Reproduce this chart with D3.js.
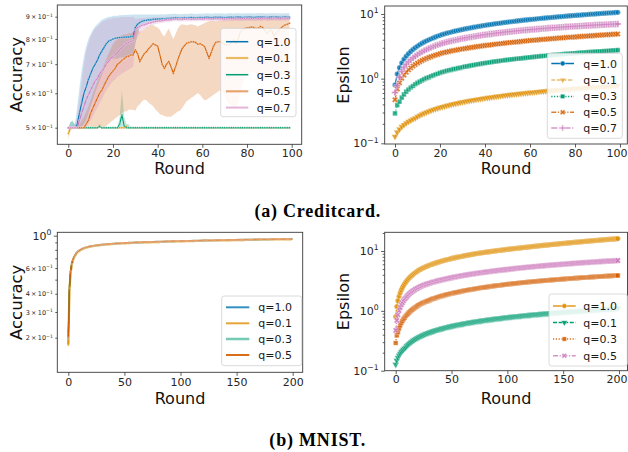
<!DOCTYPE html>
<html><head><meta charset="utf-8">
<script src="https://cdn.jsdelivr.net/npm/d3@7/dist/d3.min.js"></script>
<style>html,body{margin:0;padding:0;background:#fff;}svg{display:block;}</style>
</head><body>
<svg id="chart" width="628" height="452"></svg>
<script>
// ================= DATA =================
const creditRounds = d3.range(0, 100);
const mnistRounds = d3.range(0, 200);
const creditLabels = ["q=1.0", "q=0.1", "q=0.3", "q=0.5", "q=0.7"];
const mnistLabels = ["q=1.0", "q=0.1", "q=0.3", "q=0.5"];
const creditRoundTicks = [0, 20, 40, 60, 80, 100];
const mnistRoundTicks = [0, 50, 100, 150, 200];
const creditAccTicks = [0.5, 0.6, 0.7, 0.8, 0.9];
const creditAccTickMant = ["5", "6", "7", "8", "9"];
const mnistAccMajorTicks = [1];
const mnistAccLabeledMinor = [0.2, 0.3, 0.4, 0.6];
const mnistAccLabeledMinorMant = ["2", "3", "4", "6"];
const mnistAccUnlabeledMinor = [0.5, 0.7, 0.8, 0.9];
const epsTicks = [0.1, 1, 10];
const epsTickExp = ["\u22121", "0", "1"];
const epsMinorTicks = [0.2, 0.3, 0.4, 0.5, 0.6, 0.7, 0.8, 0.9, 2, 3, 4, 5, 6, 7, 8, 9, 20];

// Creditcard accuracy (mean, lower and upper band)
const creditAccQ10 = [
0.50,0.50,0.50,0.50,0.51,0.54,0.57,0.60,0.62,0.645,
0.665,0.685,0.70,0.715,0.735,0.75,0.765,0.78,0.79,0.795,
0.80,0.803,0.805,0.806,0.806,0.807,0.808,0.808,0.81,0.812,
0.85,0.865,0.873,0.878,0.882,0.883,0.886,0.885,0.888,0.888,
0.889,0.889,0.89,0.889,0.891,0.892,0.893,0.894,0.895,0.894,
0.893,0.894,0.895,0.894,0.895,0.896,0.895,0.894,0.895,0.896,
0.895,0.896,0.897,0.896,0.895,0.896,0.897,0.896,0.897,0.896,
0.895,0.896,0.897,0.897,0.896,0.897,0.898,0.897,0.896,0.897,
0.897,0.898,0.897,0.896,0.897,0.898,0.897,0.898,0.897,0.896,
0.897,0.898,0.897,0.898,0.897,0.896,0.897,0.898,0.897,0.897];
const creditAccQ10Lo = [
0.50,0.50,0.50,0.50,0.50,0.50,0.50,0.51,0.52,0.54,
0.56,0.58,0.60,0.62,0.64,0.66,0.68,0.70,0.71,0.72,
0.72,0.72,0.72,0.725,0.725,0.725,0.73,0.73,0.73,0.735,
0.78,0.82,0.85,0.86,0.866,0.868,0.872,0.872,0.875,0.876,
0.877,0.878,0.879,0.878,0.88,0.881,0.882,0.883,0.884,0.883,
0.882,0.883,0.884,0.883,0.884,0.885,0.884,0.883,0.884,0.885,
0.884,0.885,0.886,0.885,0.884,0.885,0.886,0.885,0.886,0.885,
0.884,0.885,0.886,0.886,0.885,0.886,0.887,0.886,0.885,0.886,
0.886,0.887,0.886,0.885,0.886,0.887,0.886,0.887,0.886,0.885,
0.886,0.887,0.886,0.887,0.886,0.885,0.886,0.887,0.886,0.886];
const creditAccQ10Hi = [
0.50,0.515,0.515,0.51,0.56,0.62,0.68,0.73,0.77,0.80,
0.82,0.84,0.855,0.865,0.875,0.885,0.89,0.895,0.90,0.90,
0.905,0.905,0.905,0.907,0.907,0.908,0.908,0.909,0.909,0.91,
0.91,0.91,0.91,0.91,0.91,0.91,0.911,0.91,0.911,0.911,
0.911,0.911,0.912,0.911,0.912,0.913,0.913,0.914,0.914,0.913,
0.912,0.913,0.914,0.913,0.914,0.915,0.914,0.913,0.914,0.915,
0.914,0.915,0.916,0.915,0.914,0.915,0.916,0.915,0.916,0.915,
0.914,0.915,0.916,0.916,0.915,0.916,0.917,0.916,0.915,0.916,
0.916,0.917,0.916,0.915,0.916,0.917,0.916,0.917,0.916,0.915,
0.916,0.917,0.916,0.917,0.916,0.915,0.916,0.917,0.916,0.916];

const creditAccQ01 = [
0.485,0.5,0.5,0.5,0.5,0.5,0.5,0.5,0.5,0.5,
0.5,0.5,0.5,0.5,0.503,0.5,0.5,0.5,0.5,0.5,
0.5,0.5,0.5,0.5,0.5,0.5,0.503,0.5,0.5,0.5,
0.5,0.5,0.5,0.5,0.5,0.5,0.5,0.5,0.5,0.5,
0.5,0.5,0.5,0.5,0.5,0.5,0.5,0.5,0.5,0.5,
0.5,0.5,0.5,0.5,0.5,0.5,0.5,0.5,0.5,0.5,
0.5,0.5,0.5,0.5,0.5,0.5,0.5,0.5,0.5,0.5,
0.5,0.5,0.5,0.5,0.5,0.5,0.5,0.5,0.5,0.5,
0.5,0.5,0.5,0.5,0.5,0.5,0.5,0.5,0.5,0.5,
0.5,0.5,0.5,0.5,0.5,0.5,0.5,0.5,0.5,0.5];
const creditAccQ01Lo = [
0.47,0.49,0.5,0.5,0.5,0.5,0.5,0.5,0.5,0.5,
0.5,0.5,0.5,0.5,0.5,0.5,0.5,0.5,0.5,0.5,
0.5,0.5,0.5,0.5,0.5,0.5,0.5,0.5,0.5,0.5,
0.5,0.5,0.5,0.5,0.5,0.5,0.5,0.5,0.5,0.5,
0.5,0.5,0.5,0.5,0.5,0.5,0.5,0.5,0.5,0.5,
0.5,0.5,0.5,0.5,0.5,0.5,0.5,0.5,0.5,0.5,
0.5,0.5,0.5,0.5,0.5,0.5,0.5,0.5,0.5,0.5,
0.5,0.5,0.5,0.5,0.5,0.5,0.5,0.5,0.5,0.5,
0.5,0.5,0.5,0.5,0.5,0.5,0.5,0.5,0.5,0.5,
0.5,0.5,0.5,0.5,0.5,0.5,0.5,0.5,0.5,0.5];
const creditAccQ01Hi = [
0.5,0.505,0.5,0.5,0.5,0.5,0.5,0.5,0.5,0.5,
0.5,0.5,0.5,0.5,0.51,0.5,0.5,0.5,0.5,0.5,
0.5,0.5,0.5,0.5,0.5,0.5,0.51,0.5,0.5,0.5,
0.5,0.5,0.5,0.5,0.5,0.5,0.5,0.5,0.5,0.5,
0.5,0.5,0.5,0.5,0.5,0.5,0.5,0.5,0.5,0.5,
0.5,0.5,0.5,0.5,0.5,0.5,0.5,0.5,0.5,0.5,
0.5,0.5,0.5,0.5,0.5,0.5,0.5,0.5,0.5,0.5,
0.5,0.5,0.5,0.5,0.5,0.5,0.5,0.5,0.5,0.5,
0.5,0.5,0.5,0.5,0.5,0.5,0.5,0.5,0.5,0.5,
0.5,0.5,0.5,0.5,0.5,0.5,0.5,0.5,0.5,0.5];

const creditAccQ03 = [
0.5,0.5,0.5,0.5,0.5,0.5,0.5,0.5,0.5,0.5,
0.5,0.5,0.5,0.5,0.503,0.5,0.5,0.5,0.5,0.5,
0.5,0.5,0.5,0.51,0.535,0.505,0.5,0.5,0.5,0.5,
0.5,0.5,0.5,0.5,0.5,0.5,0.5,0.5,0.5,0.5,
0.5,0.5,0.5,0.5,0.5,0.5,0.5,0.5,0.5,0.5,
0.5,0.5,0.5,0.5,0.5,0.5,0.5,0.5,0.5,0.5,
0.5,0.5,0.5,0.5,0.5,0.5,0.5,0.5,0.5,0.5,
0.5,0.5,0.5,0.5,0.5,0.5,0.5,0.5,0.5,0.5,
0.5,0.5,0.5,0.5,0.5,0.5,0.5,0.5,0.5,0.5,
0.5,0.5,0.5,0.5,0.5,0.5,0.5,0.5,0.5,0.5];
const creditAccQ03Lo = [
0.5,0.5,0.5,0.5,0.5,0.5,0.5,0.5,0.5,0.5,
0.5,0.5,0.5,0.5,0.5,0.5,0.5,0.5,0.5,0.5,
0.5,0.5,0.5,0.5,0.5,0.5,0.5,0.5,0.5,0.5,
0.5,0.5,0.5,0.5,0.5,0.5,0.5,0.5,0.5,0.5,
0.5,0.5,0.5,0.5,0.5,0.5,0.5,0.5,0.5,0.5,
0.5,0.5,0.5,0.5,0.5,0.5,0.5,0.5,0.5,0.5,
0.5,0.5,0.5,0.5,0.5,0.5,0.5,0.5,0.5,0.5,
0.5,0.5,0.5,0.5,0.5,0.5,0.5,0.5,0.5,0.5,
0.5,0.5,0.5,0.5,0.5,0.5,0.5,0.5,0.5,0.5,
0.5,0.5,0.5,0.5,0.5,0.5,0.5,0.5,0.5,0.5];
const creditAccQ03Hi = [
0.5,0.515,0.52,0.505,0.5,0.5,0.5,0.5,0.5,0.5,
0.5,0.5,0.5,0.5,0.51,0.5,0.5,0.5,0.5,0.5,
0.5,0.5,0.5,0.53,0.61,0.53,0.51,0.51,0.5,0.5,
0.5,0.5,0.5,0.5,0.5,0.5,0.5,0.5,0.5,0.5,
0.5,0.5,0.5,0.5,0.5,0.5,0.5,0.5,0.5,0.5,
0.5,0.5,0.5,0.5,0.5,0.5,0.5,0.5,0.5,0.5,
0.5,0.5,0.5,0.5,0.5,0.5,0.5,0.5,0.5,0.5,
0.5,0.5,0.5,0.5,0.5,0.5,0.5,0.5,0.5,0.5,
0.5,0.5,0.5,0.5,0.5,0.5,0.5,0.5,0.5,0.5,
0.5,0.5,0.5,0.5,0.5,0.5,0.5,0.5,0.5,0.5];

const creditAccQ05 = [
0.50,0.50,0.50,0.50,0.50,0.50,0.50,0.50,0.51,0.52,
0.54,0.555,0.57,0.585,0.60,0.61,0.625,0.64,0.655,0.665,
0.675,0.685,0.70,0.705,0.715,0.72,0.728,0.73,0.735,0.735,
0.755,0.74,0.71,0.725,0.74,0.748,0.76,0.77,0.78,0.775,
0.77,0.735,0.70,0.685,0.70,0.71,0.69,0.667,0.69,0.716,
0.74,0.761,0.772,0.782,0.785,0.788,0.788,0.785,0.778,0.78,
0.775,0.768,0.745,0.722,0.745,0.77,0.785,0.788,0.788,0.785,
0.778,0.775,0.775,0.785,0.795,0.78,0.80,0.83,0.84,0.845,
0.849,0.85,0.852,0.85,0.846,0.848,0.854,0.85,0.835,0.824,
0.835,0.839,0.81,0.825,0.835,0.845,0.855,0.861,0.865,0.869];
const creditAccQ05Lo = [
0.50,0.50,0.50,0.50,0.50,0.50,0.50,0.50,0.50,0.50,
0.50,0.50,0.50,0.50,0.50,0.50,0.50,0.505,0.51,0.515,
0.52,0.525,0.53,0.535,0.54,0.545,0.545,0.55,0.55,0.55,
0.547,0.56,0.565,0.575,0.58,0.578,0.57,0.565,0.56,0.55,
0.545,0.537,0.535,0.532,0.53,0.53,0.53,0.535,0.54,0.545,
0.547,0.555,0.565,0.575,0.58,0.585,0.59,0.595,0.60,0.595,
0.585,0.578,0.58,0.585,0.59,0.595,0.60,0.605,0.61,0.605,
0.59,0.575,0.565,0.56,0.555,0.555,0.57,0.60,0.63,0.65,
0.66,0.665,0.67,0.672,0.668,0.66,0.652,0.645,0.645,0.648,
0.65,0.655,0.662,0.668,0.672,0.67,0.665,0.66,0.66,0.662];
const creditAccQ05Hi = [
0.50,0.50,0.50,0.50,0.505,0.51,0.52,0.53,0.545,0.56,
0.58,0.60,0.62,0.64,0.66,0.68,0.70,0.72,0.74,0.76,
0.78,0.79,0.80,0.81,0.815,0.82,0.82,0.825,0.825,0.83,
0.84,0.845,0.83,0.835,0.84,0.85,0.855,0.86,0.86,0.855,
0.85,0.84,0.82,0.81,0.83,0.845,0.82,0.80,0.82,0.845,
0.86,0.865,0.862,0.86,0.862,0.865,0.862,0.86,0.855,0.86,
0.865,0.87,0.875,0.878,0.88,0.88,0.878,0.88,0.882,0.883,
0.885,0.885,0.884,0.886,0.888,0.888,0.89,0.892,0.894,0.895,
0.896,0.897,0.898,0.898,0.898,0.899,0.90,0.90,0.90,0.90,
0.90,0.90,0.90,0.90,0.901,0.901,0.902,0.902,0.902,0.902];

const creditAccQ07 = [
0.50,0.50,0.50,0.50,0.50,0.52,0.54,0.56,0.58,0.595,
0.61,0.625,0.64,0.65,0.665,0.675,0.685,0.70,0.71,0.72,
0.73,0.735,0.745,0.755,0.765,0.775,0.78,0.785,0.79,0.795,
0.84,0.85,0.855,0.86,0.862,0.866,0.87,0.872,0.875,0.877,
0.88,0.88,0.882,0.884,0.886,0.887,0.886,0.888,0.889,0.888,
0.889,0.888,0.889,0.89,0.889,0.888,0.889,0.89,0.889,0.89,
0.889,0.89,0.891,0.89,0.889,0.89,0.891,0.89,0.891,0.89,
0.889,0.89,0.891,0.89,0.891,0.892,0.891,0.89,0.891,0.892,
0.891,0.892,0.891,0.89,0.891,0.892,0.891,0.892,0.893,0.892,
0.891,0.892,0.893,0.892,0.891,0.892,0.893,0.892,0.893,0.892];
const creditAccQ07Lo = [
0.50,0.50,0.50,0.50,0.50,0.50,0.50,0.50,0.50,0.51,
0.52,0.53,0.545,0.555,0.57,0.58,0.595,0.61,0.62,0.63,
0.64,0.645,0.655,0.66,0.665,0.67,0.675,0.68,0.685,0.69,
0.78,0.81,0.825,0.835,0.84,0.848,0.855,0.858,0.862,0.865,
0.868,0.869,0.871,0.873,0.875,0.876,0.876,0.878,0.879,0.878,
0.878,0.877,0.878,0.879,0.878,0.877,0.878,0.879,0.878,0.879,
0.878,0.879,0.880,0.879,0.878,0.879,0.880,0.879,0.880,0.879,
0.878,0.879,0.880,0.879,0.880,0.881,0.880,0.879,0.880,0.881,
0.880,0.881,0.880,0.879,0.880,0.881,0.880,0.881,0.882,0.881,
0.880,0.881,0.882,0.881,0.880,0.881,0.882,0.881,0.882,0.881];
const creditAccQ07Hi = [
0.50,0.50,0.505,0.51,0.53,0.58,0.64,0.70,0.75,0.78,
0.81,0.83,0.845,0.855,0.865,0.875,0.88,0.885,0.89,0.89,
0.895,0.895,0.895,0.897,0.897,0.898,0.898,0.899,0.899,0.90,
0.89,0.892,0.893,0.894,0.894,0.895,0.896,0.896,0.897,0.897,
0.898,0.898,0.899,0.899,0.90,0.90,0.90,0.901,0.901,0.901,
0.901,0.900,0.901,0.902,0.901,0.900,0.901,0.902,0.901,0.902,
0.901,0.902,0.903,0.902,0.901,0.902,0.903,0.902,0.903,0.902,
0.901,0.902,0.903,0.902,0.903,0.904,0.903,0.902,0.903,0.904,
0.903,0.904,0.903,0.902,0.903,0.904,0.903,0.904,0.905,0.904,
0.903,0.904,0.905,0.904,0.903,0.904,0.905,0.904,0.905,0.904];

// Creditcard epsilon
const creditEpsQ10 = [
0.80,1.18,1.48,1.75,2.00,2.23,2.44,2.64,2.83,3.01,
3.19,3.36,3.53,3.69,3.84,3.99,4.13,4.27,4.41,4.55,
4.68,4.82,4.93,5.05,5.16,5.26,5.37,5.47,5.57,5.67,
5.77,5.87,5.97,6.06,6.15,6.24,6.33,6.42,6.51,6.60,
6.68,6.77,6.85,6.93,7.02,7.10,7.18,7.25,7.33,7.41,
7.49,7.56,7.64,7.71,7.79,7.86,7.93,8.00,8.07,8.15,
8.22,8.28,8.35,8.42,8.49,8.56,8.62,8.69,8.76,8.82,
8.89,8.95,9.01,9.08,9.14,9.20,9.27,9.33,9.39,9.45,
9.51,9.57,9.63,9.69,9.75,9.81,9.87,9.93,9.98,10.04,
10.10,10.16,10.21,10.27,10.32,10.38,10.44,10.49,10.55,10.60];
const creditEpsQ01 = [
0.127,0.148,0.165,0.180,0.193,0.205,0.216,0.226,0.236,0.245,
0.258,0.270,0.281,0.292,0.302,0.312,0.322,0.331,0.340,0.349,
0.357,0.366,0.374,0.382,0.390,0.398,0.405,0.413,0.420,0.427,
0.434,0.441,0.448,0.455,0.461,0.468,0.474,0.481,0.487,0.493,
0.499,0.506,0.511,0.517,0.523,0.529,0.535,0.540,0.546,0.552,
0.557,0.562,0.568,0.573,0.578,0.584,0.589,0.594,0.599,0.604,
0.609,0.614,0.619,0.624,0.629,0.634,0.638,0.643,0.648,0.653,
0.657,0.662,0.666,0.671,0.675,0.680,0.684,0.689,0.693,0.698,
0.702,0.706,0.711,0.715,0.719,0.723,0.728,0.732,0.736,0.740,
0.744,0.748,0.752,0.756,0.760,0.764,0.768,0.772,0.776,0.780];
const creditEpsQ03 = [
0.29,0.39,0.44,0.51,0.57,0.63,0.68,0.73,0.77,0.82,
0.86,0.90,0.94,0.98,1.02,1.05,1.09,1.12,1.16,1.19,
1.23,1.26,1.29,1.32,1.35,1.37,1.40,1.42,1.45,1.47,
1.50,1.53,1.55,1.58,1.60,1.62,1.65,1.67,1.69,1.72,
1.74,1.76,1.78,1.80,1.83,1.85,1.87,1.89,1.91,1.93,
1.95,1.97,1.99,2.00,2.03,2.04,2.06,2.08,2.10,2.12,
2.14,2.15,2.17,2.19,2.21,2.23,2.24,2.26,2.28,2.29,
2.31,2.33,2.34,2.36,2.38,2.39,2.41,2.43,2.44,2.46,
2.47,2.49,2.50,2.52,2.54,2.55,2.57,2.58,2.59,2.61,
2.63,2.64,2.65,2.67,2.68,2.70,2.71,2.73,2.74,2.76];
const creditEpsQ05 = [
0.47,0.69,0.86,1.01,1.14,1.26,1.37,1.47,1.57,1.66,
1.74,1.83,1.91,1.98,2.05,2.12,2.18,2.25,2.31,2.37,
2.42,2.49,2.53,2.59,2.63,2.67,2.72,2.76,2.80,2.84,
2.88,2.92,2.96,3.00,3.04,3.07,3.11,3.15,3.18,3.22,
3.25,3.28,3.32,3.35,3.39,3.42,3.45,3.48,3.51,3.55,
3.58,3.61,3.64,3.67,3.70,3.73,3.76,3.79,3.82,3.85,
3.88,3.91,3.93,3.97,3.99,4.02,4.05,4.08,4.11,4.13,
4.16,4.19,4.21,4.24,4.27,4.29,4.32,4.35,4.38,4.39,
4.42,4.45,4.48,4.50,4.52,4.55,4.58,4.61,4.62,4.65,
4.68,4.70,4.73,4.76,4.78,4.80,4.82,4.85,4.87,4.90];
const creditEpsQ07 = [
0.61,0.78,1.05,1.29,1.49,1.66,1.82,1.96,2.10,2.23,
2.36,2.49,2.61,2.72,2.83,2.94,3.04,3.14,3.24,3.34,
3.43,3.52,3.60,3.68,3.76,3.83,3.90,3.97,4.04,4.11,
4.17,4.24,4.30,4.36,4.42,4.48,4.54,4.60,4.66,4.72,
4.77,4.83,4.88,4.93,4.98,5.04,5.09,5.13,5.18,5.23,
5.28,5.32,5.37,5.41,5.46,5.51,5.55,5.59,5.63,5.68,
5.72,5.75,5.79,5.84,5.87,5.92,5.96,6.00,6.04,6.07,
6.11,6.14,6.17,6.21,6.24,6.28,6.32,6.35,6.39,6.42,
6.45,6.48,6.51,6.54,6.57,6.61,6.64,6.67,6.70,6.73,
6.76,6.79,6.81,6.84,6.86,6.90,6.93,6.95,6.98,7.01];

// MNIST accuracy
const mnistAccQ10 = [
0.22,0.45,0.575,0.643,0.688,0.717,0.740,0.758,0.773,0.786,
0.796,0.805,0.812,0.818,0.824,0.829,0.834,0.838,0.841,0.845,
0.848,0.851,0.853,0.856,0.858,0.860,0.862,0.864,0.865,0.867,
0.869,0.871,0.872,0.874,0.875,0.876,0.878,0.879,0.880,0.881,
0.882,0.883,0.885,0.886,0.886,0.887,0.888,0.889,0.890,0.891,
0.892,0.893,0.894,0.894,0.895,0.896,0.896,0.897,0.898,0.898,
0.899,0.900,0.900,0.901,0.902,0.902,0.903,0.903,0.904,0.905,
0.905,0.906,0.906,0.907,0.907,0.908,0.908,0.909,0.909,0.910,
0.910,0.911,0.911,0.912,0.912,0.913,0.913,0.914,0.914,0.915,
0.915,0.916,0.916,0.917,0.917,0.917,0.918,0.918,0.919,0.919,
0.920,0.920,0.920,0.921,0.921,0.922,0.922,0.923,0.923,0.923,
0.924,0.924,0.925,0.925,0.925,0.926,0.926,0.926,0.927,0.927,
0.928,0.928,0.928,0.929,0.929,0.929,0.930,0.930,0.930,0.931,
0.931,0.931,0.932,0.932,0.932,0.933,0.933,0.933,0.934,0.934,
0.934,0.935,0.935,0.935,0.936,0.936,0.936,0.937,0.937,0.937,
0.938,0.938,0.938,0.939,0.939,0.939,0.939,0.940,0.940,0.940,
0.941,0.941,0.941,0.942,0.942,0.942,0.942,0.943,0.943,0.943,
0.944,0.944,0.944,0.944,0.945,0.945,0.945,0.946,0.946,0.946,
0.946,0.947,0.947,0.947,0.947,0.948,0.948,0.948,0.948,0.949,
0.949,0.949,0.949,0.950,0.950,0.950,0.950,0.951,0.951,0.951];
const mnistAccQ01 = [
0.178,0.420,0.550,0.625,0.672,0.704,0.728,0.748,0.764,0.777,
0.788,0.797,0.805,0.812,0.818,0.823,0.828,0.832,0.836,0.839,
0.842,0.845,0.848,0.850,0.852,0.854,0.856,0.858,0.860,0.862,
0.864,0.865,0.867,0.868,0.870,0.871,0.872,0.874,0.875,0.876,
0.877,0.878,0.879,0.880,0.881,0.882,0.883,0.884,0.885,0.886,
0.887,0.887,0.888,0.889,0.890,0.890,0.891,0.892,0.892,0.893,
0.894,0.894,0.895,0.896,0.896,0.897,0.897,0.898,0.899,0.899,
0.900,0.900,0.901,0.901,0.902,0.902,0.903,0.903,0.904,0.904,
0.905,0.905,0.906,0.906,0.907,0.907,0.908,0.908,0.909,0.909,
0.910,0.910,0.911,0.911,0.912,0.912,0.913,0.913,0.913,0.914,
0.914,0.915,0.915,0.916,0.916,0.916,0.917,0.917,0.918,0.918,
0.918,0.919,0.919,0.920,0.920,0.920,0.921,0.921,0.921,0.922,
0.922,0.923,0.923,0.923,0.924,0.924,0.924,0.925,0.925,0.925,
0.926,0.926,0.926,0.927,0.927,0.927,0.928,0.928,0.928,0.929,
0.929,0.929,0.930,0.930,0.930,0.931,0.931,0.931,0.932,0.932,
0.932,0.932,0.933,0.933,0.933,0.934,0.934,0.934,0.935,0.935,
0.935,0.935,0.936,0.936,0.936,0.937,0.937,0.937,0.937,0.938,
0.938,0.938,0.939,0.939,0.939,0.939,0.940,0.940,0.940,0.940,
0.941,0.941,0.941,0.941,0.942,0.942,0.942,0.942,0.943,0.943,
0.943,0.943,0.944,0.944,0.944,0.944,0.945,0.945,0.945,0.945];
const mnistAccQ01BandLo = [0.13, 0.39, 0.53, 0.61, 0.66, 0.695];
const mnistAccQ01BandHi = [0.20, 0.46, 0.575, 0.64, 0.685, 0.714];
const mnistAccQ03 = [
0.198,0.436,0.568,0.638,0.683,0.713,0.736,0.755,0.770,0.783,
0.793,0.802,0.810,0.816,0.822,0.827,0.832,0.836,0.839,0.843,
0.846,0.849,0.851,0.854,0.856,0.858,0.860,0.862,0.864,0.866,
0.867,0.869,0.871,0.872,0.874,0.875,0.876,0.878,0.879,0.880,
0.881,0.882,0.883,0.884,0.885,0.886,0.887,0.888,0.889,0.890,
0.891,0.891,0.892,0.893,0.894,0.894,0.895,0.896,0.896,0.897,
0.898,0.898,0.899,0.900,0.900,0.901,0.901,0.902,0.903,0.903,
0.904,0.904,0.905,0.905,0.906,0.906,0.907,0.907,0.908,0.908,
0.909,0.909,0.910,0.910,0.911,0.911,0.912,0.912,0.913,0.913,
0.914,0.914,0.915,0.915,0.916,0.916,0.917,0.917,0.917,0.918,
0.918,0.919,0.919,0.920,0.920,0.920,0.921,0.921,0.922,0.922,
0.922,0.923,0.923,0.924,0.924,0.924,0.925,0.925,0.925,0.926,
0.926,0.927,0.927,0.927,0.928,0.928,0.928,0.929,0.929,0.929,
0.930,0.930,0.930,0.931,0.931,0.931,0.932,0.932,0.932,0.933,
0.933,0.933,0.934,0.934,0.934,0.935,0.935,0.935,0.936,0.936,
0.936,0.936,0.937,0.937,0.937,0.938,0.938,0.938,0.939,0.939,
0.939,0.939,0.940,0.940,0.940,0.941,0.941,0.941,0.941,0.942,
0.942,0.942,0.943,0.943,0.943,0.943,0.944,0.944,0.944,0.944,
0.945,0.945,0.945,0.945,0.946,0.946,0.946,0.946,0.947,0.947,
0.947,0.947,0.948,0.948,0.948,0.948,0.949,0.949,0.949,0.949];
const mnistAccQ05 = [
0.20,0.44,0.57,0.64,0.685,0.715,0.738,0.757,0.772,0.785,
0.795,0.804,0.811,0.818,0.824,0.829,0.833,0.837,0.841,0.844,
0.847,0.850,0.853,0.855,0.857,0.859,0.861,0.863,0.865,0.867,
0.869,0.870,0.872,0.873,0.875,0.876,0.877,0.879,0.880,0.881,
0.882,0.883,0.884,0.885,0.886,0.887,0.888,0.889,0.890,0.891,
0.892,0.892,0.893,0.894,0.895,0.895,0.896,0.897,0.897,0.898,
0.899,0.899,0.900,0.901,0.901,0.902,0.902,0.903,0.904,0.904,
0.905,0.905,0.906,0.906,0.907,0.907,0.908,0.908,0.909,0.909,
0.910,0.910,0.911,0.911,0.912,0.912,0.913,0.913,0.914,0.914,
0.915,0.915,0.916,0.916,0.917,0.917,0.918,0.918,0.918,0.919,
0.919,0.920,0.920,0.921,0.921,0.921,0.922,0.922,0.923,0.923,
0.923,0.924,0.924,0.925,0.925,0.925,0.926,0.926,0.926,0.927,
0.927,0.928,0.928,0.928,0.929,0.929,0.929,0.930,0.930,0.930,
0.931,0.931,0.931,0.932,0.932,0.932,0.933,0.933,0.933,0.934,
0.934,0.934,0.935,0.935,0.935,0.936,0.936,0.936,0.937,0.937,
0.937,0.937,0.938,0.938,0.938,0.939,0.939,0.939,0.940,0.940,
0.940,0.940,0.941,0.941,0.941,0.942,0.942,0.942,0.942,0.943,
0.943,0.943,0.944,0.944,0.944,0.944,0.945,0.945,0.945,0.945,
0.946,0.946,0.946,0.946,0.947,0.947,0.947,0.947,0.948,0.948,
0.948,0.948,0.949,0.949,0.949,0.949,0.950,0.950,0.950,0.950];

// MNIST epsilon: rounds 0-99 follow the same accounting as Creditcard, rounds 100-199 below
const mnistEpsQ10Tail = [
10.66,10.71,10.77,10.82,10.88,10.93,10.99,11.04,11.10,11.15,
11.21,11.26,11.32,11.37,11.43,11.48,11.54,11.59,11.65,11.70,
11.76,11.81,11.87,11.92,11.98,12.03,12.09,12.14,12.20,12.25,
12.31,12.36,12.42,12.47,12.53,12.58,12.64,12.69,12.75,12.80,
12.86,12.91,12.97,13.02,13.08,13.13,13.19,13.24,13.30,13.35,
13.41,13.46,13.52,13.57,13.63,13.68,13.74,13.79,13.85,13.90,
13.96,14.01,14.07,14.12,14.18,14.23,14.29,14.34,14.40,14.45,
14.51,14.56,14.62,14.67,14.73,14.78,14.84,14.89,14.95,15.00,
15.06,15.11,15.17,15.22,15.28,15.33,15.39,15.44,15.50,15.55,
15.61,15.66,15.72,15.77,15.83,15.88,15.94,15.99,16.05,16.10];
const mnistEpsQ01Tail = [
0.784,0.788,0.792,0.795,0.799,0.803,0.807,0.811,0.814,0.818,
0.822,0.825,0.829,0.833,0.836,0.840,0.844,0.847,0.851,0.854,
0.858,0.862,0.865,0.869,0.872,0.876,0.879,0.882,0.886,0.889,
0.893,0.896,0.900,0.903,0.906,0.910,0.913,0.916,0.920,0.923,
0.926,0.929,0.933,0.936,0.939,0.942,0.946,0.949,0.952,0.955,
0.958,0.962,0.965,0.968,0.971,0.974,0.977,0.980,0.984,0.987,
0.990,0.993,0.996,0.999,1.002,1.005,1.008,1.011,1.014,1.017,
1.020,1.023,1.026,1.029,1.032,1.035,1.038,1.041,1.044,1.046,
1.049,1.052,1.055,1.058,1.061,1.064,1.067,1.069,1.072,1.075,
1.078,1.081,1.084,1.086,1.089,1.092,1.095,1.098,1.100,1.103];
const mnistEpsQ03Tail = [
2.77,2.79,2.80,2.81,2.83,2.84,2.85,2.87,2.88,2.89,
2.91,2.92,2.93,2.95,2.96,2.97,2.99,3.00,3.01,3.02,
3.04,3.05,3.06,3.07,3.09,3.10,3.11,3.12,3.13,3.15,
3.16,3.17,3.18,3.20,3.21,3.22,3.23,3.24,3.25,3.27,
3.28,3.29,3.30,3.31,3.32,3.33,3.35,3.36,3.37,3.38,
3.39,3.40,3.41,3.43,3.44,3.45,3.46,3.47,3.48,3.49,
3.50,3.51,3.52,3.53,3.55,3.56,3.57,3.58,3.59,3.60,
3.61,3.62,3.63,3.64,3.65,3.66,3.67,3.68,3.69,3.70,
3.71,3.72,3.73,3.74,3.75,3.76,3.77,3.78,3.79,3.80,
3.81,3.82,3.83,3.84,3.85,3.86,3.87,3.88,3.89,3.90];
const mnistEpsQ05Tail = [
4.92,4.95,4.97,5.00,5.02,5.05,5.07,5.09,5.12,5.14,
5.16,5.19,5.21,5.23,5.25,5.28,5.30,5.32,5.35,5.37,
5.39,5.41,5.43,5.46,5.48,5.50,5.52,5.54,5.57,5.59,
5.61,5.63,5.65,5.67,5.69,5.71,5.74,5.76,5.78,5.80,
5.82,5.84,5.86,5.88,5.90,5.92,5.94,5.96,5.98,6.00,
6.02,6.04,6.06,6.08,6.10,6.12,6.14,6.16,6.18,6.20,
6.22,6.24,6.26,6.27,6.29,6.31,6.33,6.35,6.37,6.39,
6.41,6.43,6.44,6.46,6.48,6.50,6.52,6.54,6.56,6.57,
6.59,6.61,6.63,6.65,6.66,6.68,6.70,6.72,6.74,6.75,
6.77,6.79,6.81,6.82,6.84,6.86,6.88,6.89,6.91,6.93];
const mnistEpsQ10 = creditEpsQ10.concat(mnistEpsQ10Tail);
const mnistEpsQ01 = creditEpsQ01.concat(mnistEpsQ01Tail);
const mnistEpsQ03 = creditEpsQ03.concat(mnistEpsQ03Tail);
const mnistEpsQ05 = creditEpsQ05.concat(mnistEpsQ05Tail);

// ================= STYLE =================
const C_BLUE = "#0173b2", C_YEL = "#de8f05", C_GRN = "#029e73", C_ORG = "#d55e00", C_PNK = "#cc78bc";
const FONT = "'DejaVu Sans', sans-serif";
const RIGHT_EDGE = 627.5;

const svg = d3.select("#chart");
const defs = svg.append("defs");

function makePanel(id, frame, xDom, xRng, yDom, yRng) {
  const x = d3.scaleLinear().domain(xDom).range(xRng);
  const y = d3.scaleLog().domain(yDom).range(yRng);
  defs.append("clipPath").attr("id", "clip-" + id).append("rect")
    .attr("x", frame[0]).attr("y", frame[1])
    .attr("width", frame[2] - frame[0]).attr("height", frame[3] - frame[1]);
  const g = svg.append("g");
  const plot = g.append("g").attr("clip-path", `url(#clip-${id})`);
  return { x, y, g, plot, frame };
}

function styleAxis(ax, fs) {
  ax.attr("font-family", FONT).attr("font-size", fs);
  ax.select(".domain").remove();
  ax.selectAll(".tick line").attr("stroke", "#333").attr("stroke-width", 0.8);
  ax.selectAll(".tick text").attr("fill", "#262626");
}

function xAxis(p, ticks, pad) {
  const ax = p.g.append("g").attr("transform", `translate(0,${p.frame[3]})`)
    .call(d3.axisBottom(p.x).tickValues(ticks).tickSize(3.5).tickPadding(pad).tickFormat(d3.format("d")));
  styleAxis(ax, 11);
  // keep labels inside the picture (the reference shows them flush with the right edge)
  ax.selectAll(".tick text").each(function () {
    const r = this.getBoundingClientRect();
    if (r.right > RIGHT_EDGE) d3.select(this).attr("dx", -(r.right - RIGHT_EDGE));
  });
}

function yAxisSup(p, ticks, mant, exps, size, fs) {
  const ax = p.g.append("g").attr("transform", `translate(${p.frame[0]},0)`)
    .call(d3.axisLeft(p.y).tickValues(ticks).tickSize(size).tickPadding(2.5).tickFormat(() => ""));
  styleAxis(ax, fs);
  ax.selectAll(".tick text").each(function (d, i) {
    const t = d3.select(this);
    t.text(null);
    t.append("tspan").text(mant[i]);
    t.append("tspan").attr("dy", -0.42 * fs).attr("font-size", fs * 0.7).text(exps[i]);
  });
}

function yAxisMinor(p, ticks) {
  const ax = p.g.append("g").attr("transform", `translate(${p.frame[0]},0)`)
    .call(d3.axisLeft(p.y).tickValues(ticks.filter(v => p.y(v) >= p.frame[1] && p.y(v) <= p.frame[3])).tickSize(2).tickFormat(() => ""));
  styleAxis(ax, 8);
}

function frameRect(p) {
  p.g.append("rect").attr("x", p.frame[0]).attr("y", p.frame[1])
    .attr("width", p.frame[2] - p.frame[0]).attr("height", p.frame[3] - p.frame[1])
    .attr("fill", "none").attr("stroke", "#3a3a3a").attr("stroke-width", 0.9);
}

function axisTitles(p, xTitle, xBase, yTitle, yBase, yFs) {
  p.g.append("text").attr("x", (p.frame[0] + p.frame[2]) / 2).attr("y", xBase)
    .attr("text-anchor", "middle").attr("font-family", FONT).attr("font-size", 16).attr("fill", "#111").text(xTitle);
  p.g.append("text").attr("transform", `translate(${yBase},${(p.frame[1] + p.frame[3]) / 2}) rotate(-90)`)
    .attr("text-anchor", "middle").attr("font-family", FONT).attr("font-size", yFs).attr("fill", "#111").text(yTitle);
}

function band(p, rounds, lo, hi, color, op) {
  const area = d3.area().x((d, i) => p.x(rounds[i])).y0(d => p.y(d[0])).y1(d => p.y(d[1]));
  p.plot.append("path").datum(lo.map((v, i) => [v, hi[i]]))
    .attr("d", area).attr("fill", color).attr("fill-opacity", op).attr("stroke", "none");
}

function lineDots(p, rounds, vals, color, lw, r) {
  const line = d3.line().x((d, i) => p.x(rounds[i])).y(d => p.y(d));
  p.plot.append("path").datum(vals).attr("d", line).attr("fill", "none")
    .attr("stroke", color).attr("stroke-width", lw);
  p.plot.append("g").selectAll("circle").data(vals).join("circle")
    .attr("cx", (d, i) => p.x(rounds[i])).attr("cy", d => p.y(d)).attr("r", r)
    .attr("fill", color).attr("stroke", "#fff").attr("stroke-width", 0.35);
}

const MK = {
  o: { type: d3.symbolCircle, size: 22, rot: 0 },
  v: { type: d3.symbolTriangle, size: 20, rot: 180 },
  s: { type: d3.symbolSquare, size: 22, rot: 0 },
  X: { type: d3.symbolCross, size: 22, rot: 45 },
  P: { type: d3.symbolCross, size: 24, rot: 0 }
};

function epsSeries(p, rounds, vals, color, dash, mk) {
  const line = d3.line().x((d, i) => p.x(rounds[i])).y(d => p.y(d));
  p.plot.append("path").datum(vals).attr("d", line).attr("fill", "none")
    .attr("stroke", color).attr("stroke-width", 1.3).attr("stroke-dasharray", dash).attr("stroke-opacity", 0.9);
  const m = MK[mk];
  p.plot.append("g").selectAll("path").data(vals).join("path")
    .attr("transform", (d, i) => `translate(${p.x(rounds[i])},${p.y(d)}) rotate(${m.rot})`)
    .attr("d", d3.symbol().type(m.type).size(m.size))
    .attr("fill", color).attr("fill-opacity", 0.8)
    .attr("stroke", "#fff").attr("stroke-width", 0.4).attr("stroke-opacity", 0.8);
}

function legend(p, box, rows, lx0, lx1, tx, items) {
  const g = p.g.append("g");
  g.append("rect").attr("x", box[0]).attr("y", box[1]).attr("width", box[2] - box[0]).attr("height", box[3] - box[1])
    .attr("rx", 2.5).attr("fill", "#fff").attr("fill-opacity", 0.85).attr("stroke", "#d0d0d0").attr("stroke-width", 0.8);
  items.forEach((it, i) => {
    const yy = rows[i];
    g.append("line").attr("x1", lx0).attr("x2", lx1).attr("y1", yy).attr("y2", yy)
      .attr("stroke", it.color).attr("stroke-width", it.lw).attr("stroke-opacity", it.op)
      .attr("stroke-dasharray", it.dash || null);
    if (it.mk) {
      const m = MK[it.mk];
      g.append("path").attr("transform", `translate(${(lx0 + lx1) / 2},${yy}) rotate(${m.rot})`)
        .attr("d", d3.symbol().type(m.type).size(m.size * 0.85)).attr("fill", it.color).attr("fill-opacity", it.op)
        .attr("stroke", "#fff").attr("stroke-width", 0.4);
    }
    g.append("text").attr("x", tx).attr("y", yy + 4).attr("font-family", FONT).attr("font-size", 11)
      .attr("fill", "#1a1a1a").text(it.label);
  });
}

// ================= PANEL A: Creditcard accuracy =================
const pA = makePanel("a", [57.3, 5, 301.7, 144.3], [0, 100], [68.3, 291.7], [0.5, 0.9], [127.7, 16.7]);
band(pA, creditRounds, creditAccQ10Lo, creditAccQ10Hi, C_BLUE, 0.2);
band(pA, creditRounds, creditAccQ01Lo, creditAccQ01Hi, C_YEL, 0.25);
band(pA, creditRounds, creditAccQ03Lo, creditAccQ03Hi, C_GRN, 0.25);
band(pA, creditRounds, creditAccQ05Lo, creditAccQ05Hi, C_ORG, 0.24);
band(pA, creditRounds, creditAccQ07Lo, creditAccQ07Hi, C_PNK, 0.22);
lineDots(pA, creditRounds, creditAccQ10, C_BLUE, 1.1, 1.0);
lineDots(pA, creditRounds, creditAccQ01, C_YEL, 1.1, 1.0);
lineDots(pA, creditRounds, creditAccQ03, C_GRN, 1.1, 1.0);
lineDots(pA, creditRounds, creditAccQ05, C_ORG, 1.1, 1.0);
lineDots(pA, creditRounds, creditAccQ07, C_PNK, 1.1, 1.0);
xAxis(pA, creditRoundTicks, 1.5);
yAxisSup(pA, creditAccTicks, creditAccTickMant.map(m => m + "\u2009\u00d7\u200910"), creditAccTicks.map(() => "\u22121"), 2, 6.5);
frameRect(pA);
axisTitles(pA, "Round", 174, "Accuracy", 22, 16.5);
legend(pA, [220.7, 28.3, 296, 116.7], [41.7, 58, 74.7, 91.3, 107.6], 226, 248.3, 256.7, [
  { label: creditLabels[0], color: C_BLUE, lw: 1.5, op: 1 },
  { label: creditLabels[1], color: C_YEL, lw: 2.2, op: 0.6 },
  { label: creditLabels[2], color: C_GRN, lw: 1.5, op: 1 },
  { label: creditLabels[3], color: C_ORG, lw: 2.2, op: 0.55 },
  { label: creditLabels[4], color: C_PNK, lw: 2, op: 0.55 }
]);

// ================= PANEL B: Creditcard epsilon =================
const pB = makePanel("b", [384.7, 6, 627.3, 144], [0, 100], [395, 620], [0.1, 10], [143.3, 14]);
epsSeries(pB, creditRounds, creditEpsQ10, C_BLUE, null, "o");
epsSeries(pB, creditRounds, creditEpsQ01, C_YEL, "4,1.6", "v");
epsSeries(pB, creditRounds, creditEpsQ03, C_GRN, "1.2,1.6", "s");
epsSeries(pB, creditRounds, creditEpsQ05, C_ORG, "5,1.6,1.2,1.6", "X");
epsSeries(pB, creditRounds, creditEpsQ07, C_PNK, "6,1.6,1.2,1.6,1.2,1.6", "P");
xAxis(pB, creditRoundTicks, 1.5);
yAxisMinor(pB, epsMinorTicks);
yAxisSup(pB, epsTicks, ["10", "10", "10"], epsTickExp, 3.5, 11);
frameRect(pB);
axisTitles(pB, "Round", 174, "Epsilon", 349, 16);
legend(pB, [547.3, 53.3, 622.3, 138.3], [63.5, 80, 96.4, 112.3, 128], 551.3, 574, 583.3, [
  { label: creditLabels[0], color: C_BLUE, lw: 1.5, op: 1, mk: "o" },
  { label: creditLabels[1], color: C_YEL, lw: 1.5, op: 0.6, mk: "v", dash: "4,1.6" },
  { label: creditLabels[2], color: C_GRN, lw: 1.5, op: 1, mk: "s", dash: "1.2,1.6" },
  { label: creditLabels[3], color: C_ORG, lw: 1.5, op: 0.8, mk: "X", dash: "5,1.6,1.2,1.6" },
  { label: creditLabels[4], color: C_PNK, lw: 2, op: 0.6, mk: "P", dash: "6,1.6,1.2,1.6,1.2,1.6" }
]);

// ================= PANEL C: MNIST accuracy =================
const pC = makePanel("c", [57.3, 232.3, 302.7, 372.3], [0, 200], [68.3, 292.7], [0.2, 1], [337.7, 235.7]);
band(pC, mnistRounds, mnistAccQ01BandLo, mnistAccQ01BandHi, C_YEL, 0.2);
lineDots(pC, mnistRounds, mnistAccQ10, C_BLUE, 1.2, 0.9);
lineDots(pC, mnistRounds, mnistAccQ01, C_YEL, 2.2, 0.9);
lineDots(pC, mnistRounds, mnistAccQ03, C_GRN, 1.2, 0.9);
lineDots(pC, mnistRounds, mnistAccQ05, C_ORG, 1.2, 0.9);
xAxis(pC, mnistRoundTicks, 2);
yAxisMinor(pC, mnistAccUnlabeledMinor);
yAxisSup(pC, mnistAccLabeledMinor, mnistAccLabeledMinorMant.map(m => m + "\u2009\u00d7\u200910"), mnistAccLabeledMinor.map(() => "\u22121"), 2, 6.5);
yAxisSup(pC, mnistAccMajorTicks, ["10"], ["0"], 3.5, 11);
frameRect(pC);
axisTitles(pC, "Round", 403.5, "Accuracy", 22, 16.5);
legend(pC, [221.7, 296, 301.7, 365.7], [307.3, 323.3, 339, 355], 226, 249.3, 258.3, [
  { label: mnistLabels[0], color: C_BLUE, lw: 2, op: 0.8 },
  { label: mnistLabels[1], color: C_YEL, lw: 2, op: 0.8 },
  { label: mnistLabels[2], color: C_GRN, lw: 2.5, op: 0.55 },
  { label: mnistLabels[3], color: C_ORG, lw: 2, op: 0.9 }
]);

// ================= PANEL D: MNIST epsilon =================
const pD = makePanel("d", [384.7, 232.3, 627.5, 370.7], [0, 200], [395.7, 619], [0.1, 10], [370.7, 251]);
epsSeries(pD, mnistRounds, mnistEpsQ10, C_YEL, null, "o");
epsSeries(pD, mnistRounds, mnistEpsQ01, C_GRN, "4,1.6", "v");
epsSeries(pD, mnistRounds, mnistEpsQ03, C_ORG, "1.2,1.6", "s");
epsSeries(pD, mnistRounds, mnistEpsQ05, C_PNK, "5,1.6,1.2,1.6", "X");
xAxis(pD, mnistRoundTicks, 1);
yAxisMinor(pD, epsMinorTicks);
yAxisSup(pD, epsTicks, ["10", "10", "10"], epsTickExp, 3.5, 11);
frameRect(pD);
axisTitles(pD, "Round", 403.5, "Epsilon", 349, 16);
legend(pD, [549, 294, 627.3, 366], [306, 322.5, 339, 355.7], 553, 575.7, 583.3, [
  { label: mnistLabels[0], color: C_YEL, lw: 1.5, op: 0.9, mk: "o" },
  { label: mnistLabels[1], color: C_GRN, lw: 1.5, op: 1, mk: "v", dash: "4,1.6" },
  { label: mnistLabels[2], color: C_ORG, lw: 1.5, op: 0.9, mk: "s", dash: "1.2,1.6" },
  { label: mnistLabels[3], color: C_PNK, lw: 1.5, op: 0.8, mk: "X", dash: "5,1.6,1.2,1.6" }
]);

// ================= CAPTIONS =================
svg.append("text").attr("x", 317.7).attr("y", 217).attr("text-anchor", "middle")
  .attr("font-family", "'Liberation Serif', serif").attr("font-weight", "bold").attr("font-size", 18)
  .attr("letter-spacing", 0.8).attr("fill", "#000").text("(a) Creditcard.");
svg.append("text").attr("x", 317.7).attr("y", 446).attr("text-anchor", "middle")
  .attr("font-family", "'Liberation Serif', serif").attr("font-weight", "bold").attr("font-size", 18)
  .attr("letter-spacing", 0.8).attr("fill", "#000").text("(b) MNIST.");
</script>
</body></html>
